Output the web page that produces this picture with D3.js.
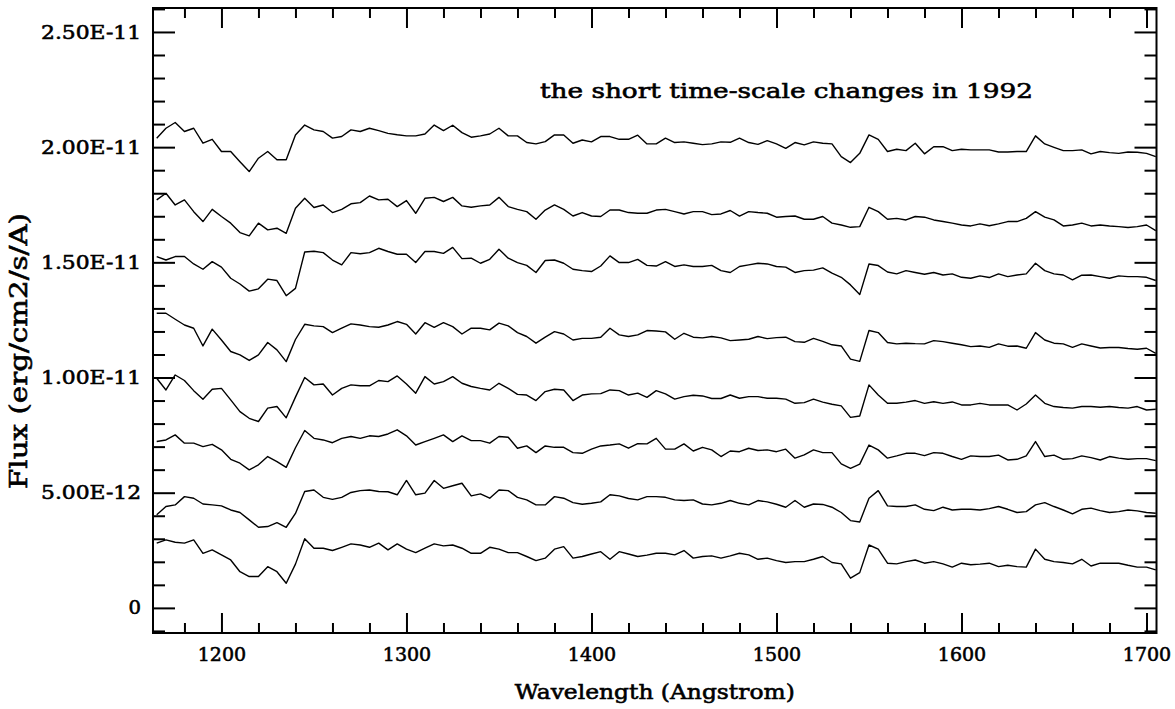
<!DOCTYPE html>
<html>
<head>
<meta charset="utf-8">
<script src="https://cdn.jsdelivr.net/npm/d3@7"></script>
<style>
  body { margin: 0; background: #fff; }
  svg { display: block; }
  text { stroke: #000; stroke-width: 0.6px; fill: #000; }
  .tick text { font-family: "DejaVu Serif", serif; font-size: 19px; }
</style>
</head>
<body>
<svg id="chart" width="1175" height="709"></svg>
<script>
// wavelength grid (Angstrom) the spectra were read at
const wavelength = [
  1165,1170,1175,1180,1185,1190,1195,1200,1205,1210,1215,1220,1225,1230,1235,1240,1245,1250,1255,1260,1265,1270,1275,
  1280,1285,1290,1295,1300,1305,1310,1315,1320,1325,1330,1335,1340,1345,1350,1355,1360,1365,1370,1375,1380,1385,1390,
  1395,1400,1405,1410,1415,1420,1425,1430,1435,1440,1445,1450,1455,1460,1465,1470,1475,1480,1485,1490,1495,1500,1505,
  1510,1515,1520,1525,1530,1535,1540,1545,1550,1555,1560,1565,1570,1575,1580,1585,1590,1595,1600,1605,1610,1615,1620,
  1625,1630,1635,1640,1645,1650,1655,1660,1665,1670,1675,1680,1685,1690,1695,1700,1705
];

// flux in units of 1e-12 erg/cm2/s/A, top spectrum first
const spec1 = [
  20.39,20.82,21.07,20.68,20.82,20.17,20.34,19.81,19.81,19.37,18.94,19.52,19.81,19.45,19.45,20.53,20.96,20.75,20.68,20.39,20.46,20.75,20.68,
  20.82,20.72,20.60,20.54,20.49,20.49,20.57,20.96,20.72,20.95,20.63,20.43,20.49,20.57,20.82,20.49,20.49,20.20,20.14,20.24,20.53,20.53,20.17,
  20.31,20.23,20.46,20.46,20.34,20.34,20.52,20.14,20.14,20.39,20.20,20.23,20.17,20.11,20.14,20.23,20.21,20.39,20.20,20.12,20.28,20.14,19.95,
  20.20,20.10,20.23,20.17,20.14,19.59,19.33,19.73,20.53,20.34,19.81,19.91,19.85,20.17,19.71,20.02,20.02,19.85,19.91,19.88,19.88,19.88,19.79,
  19.79,19.81,19.81,20.49,20.14,19.99,19.85,19.85,19.88,19.71,19.81,19.76,19.73,19.79,19.78,19.73,19.59
];
const spec2 = [
  17.71,18.00,17.49,17.71,17.20,16.77,17.30,16.99,16.70,16.29,16.15,16.70,16.41,16.48,16.26,17.35,17.78,17.38,17.49,17.16,17.30,17.54,17.59,
  17.88,17.71,17.74,17.42,17.68,17.13,17.78,17.82,17.64,17.82,17.45,17.39,17.45,17.49,17.82,17.42,17.30,17.20,16.87,17.27,17.49,17.30,17.01,
  17.16,17.01,16.99,17.27,17.27,17.16,17.13,17.13,17.27,17.30,17.20,17.10,17.20,17.20,17.07,17.10,17.25,17.01,17.20,17.16,17.13,16.96,16.99,
  17.01,16.87,16.87,16.99,16.70,16.62,16.52,16.55,17.39,17.20,16.87,16.91,16.84,16.99,16.96,16.84,16.77,16.70,16.62,16.58,16.67,16.59,16.67,
  16.77,16.77,16.91,17.20,16.96,16.84,16.58,16.62,16.70,16.58,16.62,16.58,16.55,16.51,16.55,16.62,16.38
];
const spec3 = [
  15.25,15.10,15.25,15.25,14.93,14.70,15.03,14.79,14.31,14.06,13.75,13.85,14.27,14.21,13.55,13.87,15.45,15.48,15.42,15.10,14.89,15.42,15.37,
  15.42,15.61,15.47,15.35,15.35,14.99,15.47,15.47,15.39,15.65,15.16,15.18,14.96,15.13,15.57,15.18,14.99,14.87,14.56,15.08,15.10,14.96,14.70,
  14.64,14.60,14.84,15.28,14.99,14.99,15.13,14.87,14.84,15.03,14.82,14.89,14.82,14.82,14.87,14.64,14.56,14.82,14.89,14.96,14.93,14.82,14.79,
  14.56,14.64,14.66,14.76,14.53,14.35,14.02,13.60,14.93,14.86,14.58,14.50,14.64,14.56,14.48,14.56,14.45,14.50,14.35,14.31,14.41,14.34,14.50,
  14.38,14.45,14.50,14.96,14.64,14.50,14.45,14.24,14.44,14.45,14.38,14.31,14.41,14.38,14.38,14.35,14.21
];
const spec4 = [
  12.79,12.79,12.53,12.28,12.14,11.37,12.10,11.63,11.13,10.98,10.74,10.98,11.52,11.20,10.69,11.65,12.31,12.24,12.21,11.95,12.14,12.33,12.28,
  12.21,12.18,12.28,12.43,12.31,11.89,12.38,12.18,12.38,12.21,11.89,12.14,12.14,12.07,12.36,12.24,11.95,11.78,11.49,11.75,11.99,11.89,11.63,
  11.70,11.70,11.75,12.14,11.85,11.78,11.85,12.04,12.02,11.98,11.66,11.92,11.75,11.72,11.78,11.72,11.60,11.63,11.66,11.78,11.69,11.73,11.75,
  11.56,11.53,11.70,11.57,11.42,11.37,10.80,10.70,12.04,11.95,11.52,11.46,11.49,11.47,11.46,11.60,11.56,11.49,11.42,11.34,11.37,11.31,11.46,
  11.36,11.37,11.27,11.95,11.63,11.49,11.46,11.31,11.46,11.37,11.28,11.30,11.30,11.26,11.23,11.27,11.05
];
const spec5 = [
  9.97,9.46,10.11,9.87,9.43,9.06,9.49,9.53,9.03,8.52,8.23,8.09,8.67,8.74,8.25,9.15,10.00,9.68,9.72,9.24,9.53,9.68,9.64,
  9.64,9.87,9.82,10.07,9.72,9.32,10.04,9.72,9.82,10.04,9.75,9.61,9.53,9.46,9.75,9.53,9.27,9.24,9.00,9.39,9.49,9.46,9.00,
  9.24,9.29,9.30,9.46,9.43,9.24,9.32,9.14,9.43,9.29,9.06,9.17,9.23,9.20,9.09,9.09,9.24,9.10,9.17,9.17,9.10,9.10,9.06,
  8.88,8.91,9.06,8.93,8.84,8.77,8.27,8.33,9.68,9.24,8.88,8.88,8.93,9.00,8.88,8.95,8.88,8.94,8.81,8.81,8.88,8.81,8.81,
  8.81,8.59,8.85,9.24,8.88,8.74,8.70,8.67,8.74,8.74,8.71,8.74,8.70,8.67,8.74,8.59,8.62
];
const spec6 = [
  7.22,7.29,7.51,7.15,7.15,7.00,7.10,6.86,6.45,6.28,5.99,6.21,6.57,6.35,6.10,6.95,7.70,7.36,7.29,7.17,7.36,7.44,7.36,
  7.47,7.44,7.55,7.73,7.47,7.07,7.22,7.36,7.51,7.22,7.47,7.26,7.26,7.15,7.44,7.41,6.93,7.03,6.74,7.03,6.97,6.97,6.74,
  6.71,6.89,7.03,7.07,7.12,6.93,7.13,7.12,7.36,6.89,6.89,7.12,6.81,6.97,6.86,6.57,6.81,6.78,6.93,6.83,6.86,6.78,6.89,
  6.50,6.64,6.86,6.74,6.74,6.25,6.06,6.24,7.07,6.86,6.50,6.60,6.71,6.71,6.61,6.74,6.71,6.57,6.45,6.60,6.57,6.57,6.63,
  6.42,6.45,6.60,7.22,6.57,6.63,6.45,6.48,6.60,6.52,6.42,6.57,6.50,6.45,6.48,6.48,6.39
];
const spec7 = [
  4.04,4.40,4.47,4.83,4.76,4.51,4.47,4.43,4.25,4.14,3.82,3.50,3.53,3.70,3.50,4.10,5.05,5.12,4.80,4.71,4.80,5.01,5.09,
  5.12,5.05,5.04,4.91,5.53,4.91,4.98,5.53,5.19,5.30,5.41,4.86,4.95,4.76,5.12,5.09,4.80,4.69,4.47,4.47,4.83,4.76,4.57,
  4.50,4.54,4.60,4.91,4.86,4.75,4.69,4.83,4.83,4.80,4.69,4.66,4.69,4.51,4.47,4.54,4.66,4.54,4.47,4.66,4.60,4.50,4.37,
  4.66,4.37,4.51,4.49,4.37,4.14,3.79,3.73,4.76,5.09,4.43,4.40,4.40,4.47,4.28,4.22,4.37,4.25,4.28,4.28,4.25,4.31,4.40,
  4.28,4.14,4.18,4.47,4.57,4.40,4.25,4.08,4.28,4.33,4.22,4.14,4.18,4.25,4.21,4.14,4.11
];
const spec8 = [
  2.81,2.95,2.85,2.81,2.95,2.37,2.52,2.30,2.08,1.57,1.36,1.36,1.79,1.57,1.07,1.90,3.00,2.59,2.59,2.49,2.63,2.78,2.73,
  2.63,2.81,2.52,2.78,2.55,2.40,2.59,2.78,2.69,2.73,2.59,2.37,2.37,2.63,2.55,2.40,2.40,2.23,2.05,2.16,2.55,2.66,2.16,
  2.23,2.34,2.44,2.11,2.44,2.34,2.23,2.29,2.37,2.37,2.30,2.49,2.16,2.23,2.26,2.16,2.26,2.37,2.30,2.11,2.16,2.05,1.97,
  2.01,2.01,2.11,2.23,1.97,1.91,1.29,1.53,2.73,2.55,1.94,1.91,2.01,2.08,1.94,2.01,1.91,1.77,1.94,1.87,1.90,1.94,1.79,
  1.85,1.79,1.77,2.55,2.11,2.01,1.97,1.91,2.11,1.82,1.94,1.94,1.94,1.85,1.77,1.77,1.65
];
const spectra = [spec1, spec2, spec3, spec4, spec5, spec6, spec7, spec8];

// tick values
const xMajor = [1200, 1300, 1400, 1500, 1600, 1700];
const xMinor = [1180, 1220, 1240, 1260, 1280, 1320, 1340, 1360, 1380, 1420, 1440, 1460, 1480,
                1520, 1540, 1560, 1580, 1620, 1640, 1660, 1680];
const yMajor = [0, 5, 10, 15, 20, 25];
const yMinor = [-1, 1, 2, 3, 4, 6, 7, 8, 9, 11, 12, 13, 14, 16, 17, 18, 19, 21, 22, 23, 24, 26];

const titleText = "the short time-scale changes in 1992";
const xLabel = "Wavelength (Angstrom)";
const yLabel = "Flux (erg/cm2/s/A)";

const svg = d3.select("#chart");
const plotLeft = 153, plotRight = 1156.5, plotTop = 8, plotBottom = 633;
const labelFont = "'DejaVu Serif', serif";

const x = d3.scaleLinear().domain([1163, 1705.4]).range([plotLeft, plotRight]);
const y = d3.scaleLinear().domain([-1.09, 26.04]).range([plotBottom, plotTop]);

const fmtY = d => d === 0 ? "0" : (d * 1e-12).toExponential(2).toUpperCase();

// spectra
const line = d3.line()
  .x((d, i) => x(wavelength[i]))
  .y(d => y(d));

svg.append("g")
  .selectAll("path")
  .data(spectra)
  .enter()
  .append("path")
  .attr("d", line)
  .attr("fill", "none")
  .attr("stroke", "#000")
  .attr("stroke-width", 1.4)
  .attr("stroke-linejoin", "round");

// axes, ticks pointing inward on all four sides
let addAxis = function (axis, tx, ty) {
  let g = svg.append("g")
    .attr("transform", `translate(${tx},${ty})`)
    .call(axis);
  g.select(".domain").remove();
  g.selectAll(".tick line").attr("stroke", "#000").attr("stroke-width", 2);
  return g;
};

addAxis(d3.axisBottom(x).tickValues(xMajor).tickSize(-20).tickPadding(15).tickFormat(d3.format("d")), 0, plotBottom);
addAxis(d3.axisBottom(x).tickValues(xMinor).tickSize(-10).tickFormat(""), 0, plotBottom);
addAxis(d3.axisTop(x).tickValues(xMajor).tickSize(-20).tickFormat(""), 0, plotTop);
addAxis(d3.axisTop(x).tickValues(xMinor).tickSize(-10).tickFormat(""), 0, plotTop);

let yAxisG = addAxis(d3.axisLeft(y).tickValues(yMajor).tickSize(-22).tickPadding(12).tickFormat(fmtY), plotLeft, 0);
yAxisG.selectAll(".tick text")
  .attr("textLength", d => fmtY(d).length * 12.5)
  .attr("lengthAdjust", "spacingAndGlyphs");
addAxis(d3.axisLeft(y).tickValues(yMinor).tickSize(-12).tickFormat(""), plotLeft, 0);
addAxis(d3.axisRight(y).tickValues(yMajor).tickSize(-22).tickFormat(""), plotRight, 0);
addAxis(d3.axisRight(y).tickValues(yMinor).tickSize(-12).tickFormat(""), plotRight, 0);

// frame
svg.append("rect")
  .attr("x", plotLeft).attr("y", plotTop)
  .attr("width", plotRight - plotLeft).attr("height", plotBottom - plotTop)
  .attr("fill", "none").attr("stroke", "#000").attr("stroke-width", 2);

// labels
svg.append("text")
  .attr("x", 540).attr("y", 98)
  .attr("textLength", 493).attr("lengthAdjust", "spacingAndGlyphs")
  .style("font-family", labelFont).style("font-size", "21px")
  .text(titleText);

svg.append("text")
  .attr("x", (plotLeft + plotRight) / 2).attr("y", 699)
  .attr("text-anchor", "middle")
  .attr("textLength", 280).attr("lengthAdjust", "spacingAndGlyphs")
  .style("font-family", labelFont).style("font-size", "21px")
  .text(xLabel);

svg.append("text")
  .attr("transform", "translate(27,351) rotate(-90)")
  .attr("text-anchor", "middle")
  .attr("textLength", 276).attr("lengthAdjust", "spacingAndGlyphs")
  .style("font-family", labelFont).style("font-size", "24px")
  .text(yLabel);
</script>
</body>
</html>
